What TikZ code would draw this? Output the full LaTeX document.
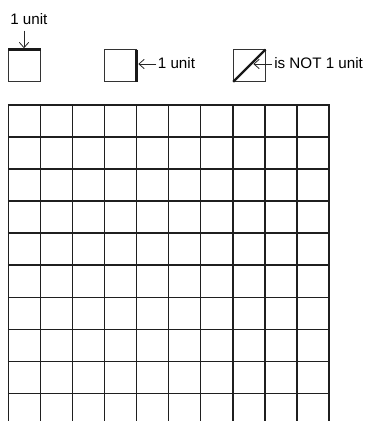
\documentclass[tikz,border=0pt]{standalone}
\usepackage{fontspec}
\setmainfont{Liberation Sans}
\usetikzlibrary{arrows.meta}
\begin{document}
\begin{tikzpicture}[x=0.75pt,y=-0.75pt,
  lab/.style={inner sep=0pt,anchor=base west,font=\fontsize{11.4}{13}\selectfont},
  sq/.style={draw=black!80,line width=0.8pt},
  thick edge/.style={draw=black!90,line width=1.7pt},
  arr/.style={draw=black!85,line width=0.6pt,-{Straight Barb[length=4pt,width=7pt]}},
  gridline/.style={draw=black!88,line width=1.1pt}]
\useasboundingbox (0,0) rectangle (370,421);
\clip (0,0) rectangle (370,421);
% top squares
\draw[sq] (8.4,49.5) rectangle (40.8,81.8);
\draw[thick edge] (8.4,49.5) -- (40.8,49.5);
\draw[sq] (104.4,49.5) rectangle (136.6,81.8);
\draw[thick edge] (136.6,49.5) -- (136.6,81.8);
\draw[sq] (233.2,49.5) rectangle (265.6,81.8);
\draw[thick edge] (233.2,81.8) -- (265.6,49.5);
% labels
\node[lab] (lab1) at (10,24.3) {1 unit};
\node[lab] (lab2) at (157.6,68.4) {1 unit};
\node[lab] (lab3) at (274,68.6) {is NOT 1 unit};
\coordinate (a1) at (24,48.3);
\coordinate (a2) at (138.3,64);
\coordinate (a3) at (253.3,64);
\draw[arr] ([yshift=-4.5pt]lab1.south -| a1) -- (a1);
\draw[arr] ([xshift=-1pt]lab2.west |- a2) -- (a2);
\draw[arr] ([xshift=-1.6pt]lab3.west |- a3) -- (a3);
% grid
\foreach \i in {0,...,10}
  \draw[gridline] ({8.4+32.06*\i},104.6) -- ({8.4+32.06*\i},440);
\foreach \j in {0,...,9}
  \draw[gridline] (7.9,{105+32.04*\j}) -- (329.6,{105+32.04*\j});
\end{tikzpicture}
\end{document}
